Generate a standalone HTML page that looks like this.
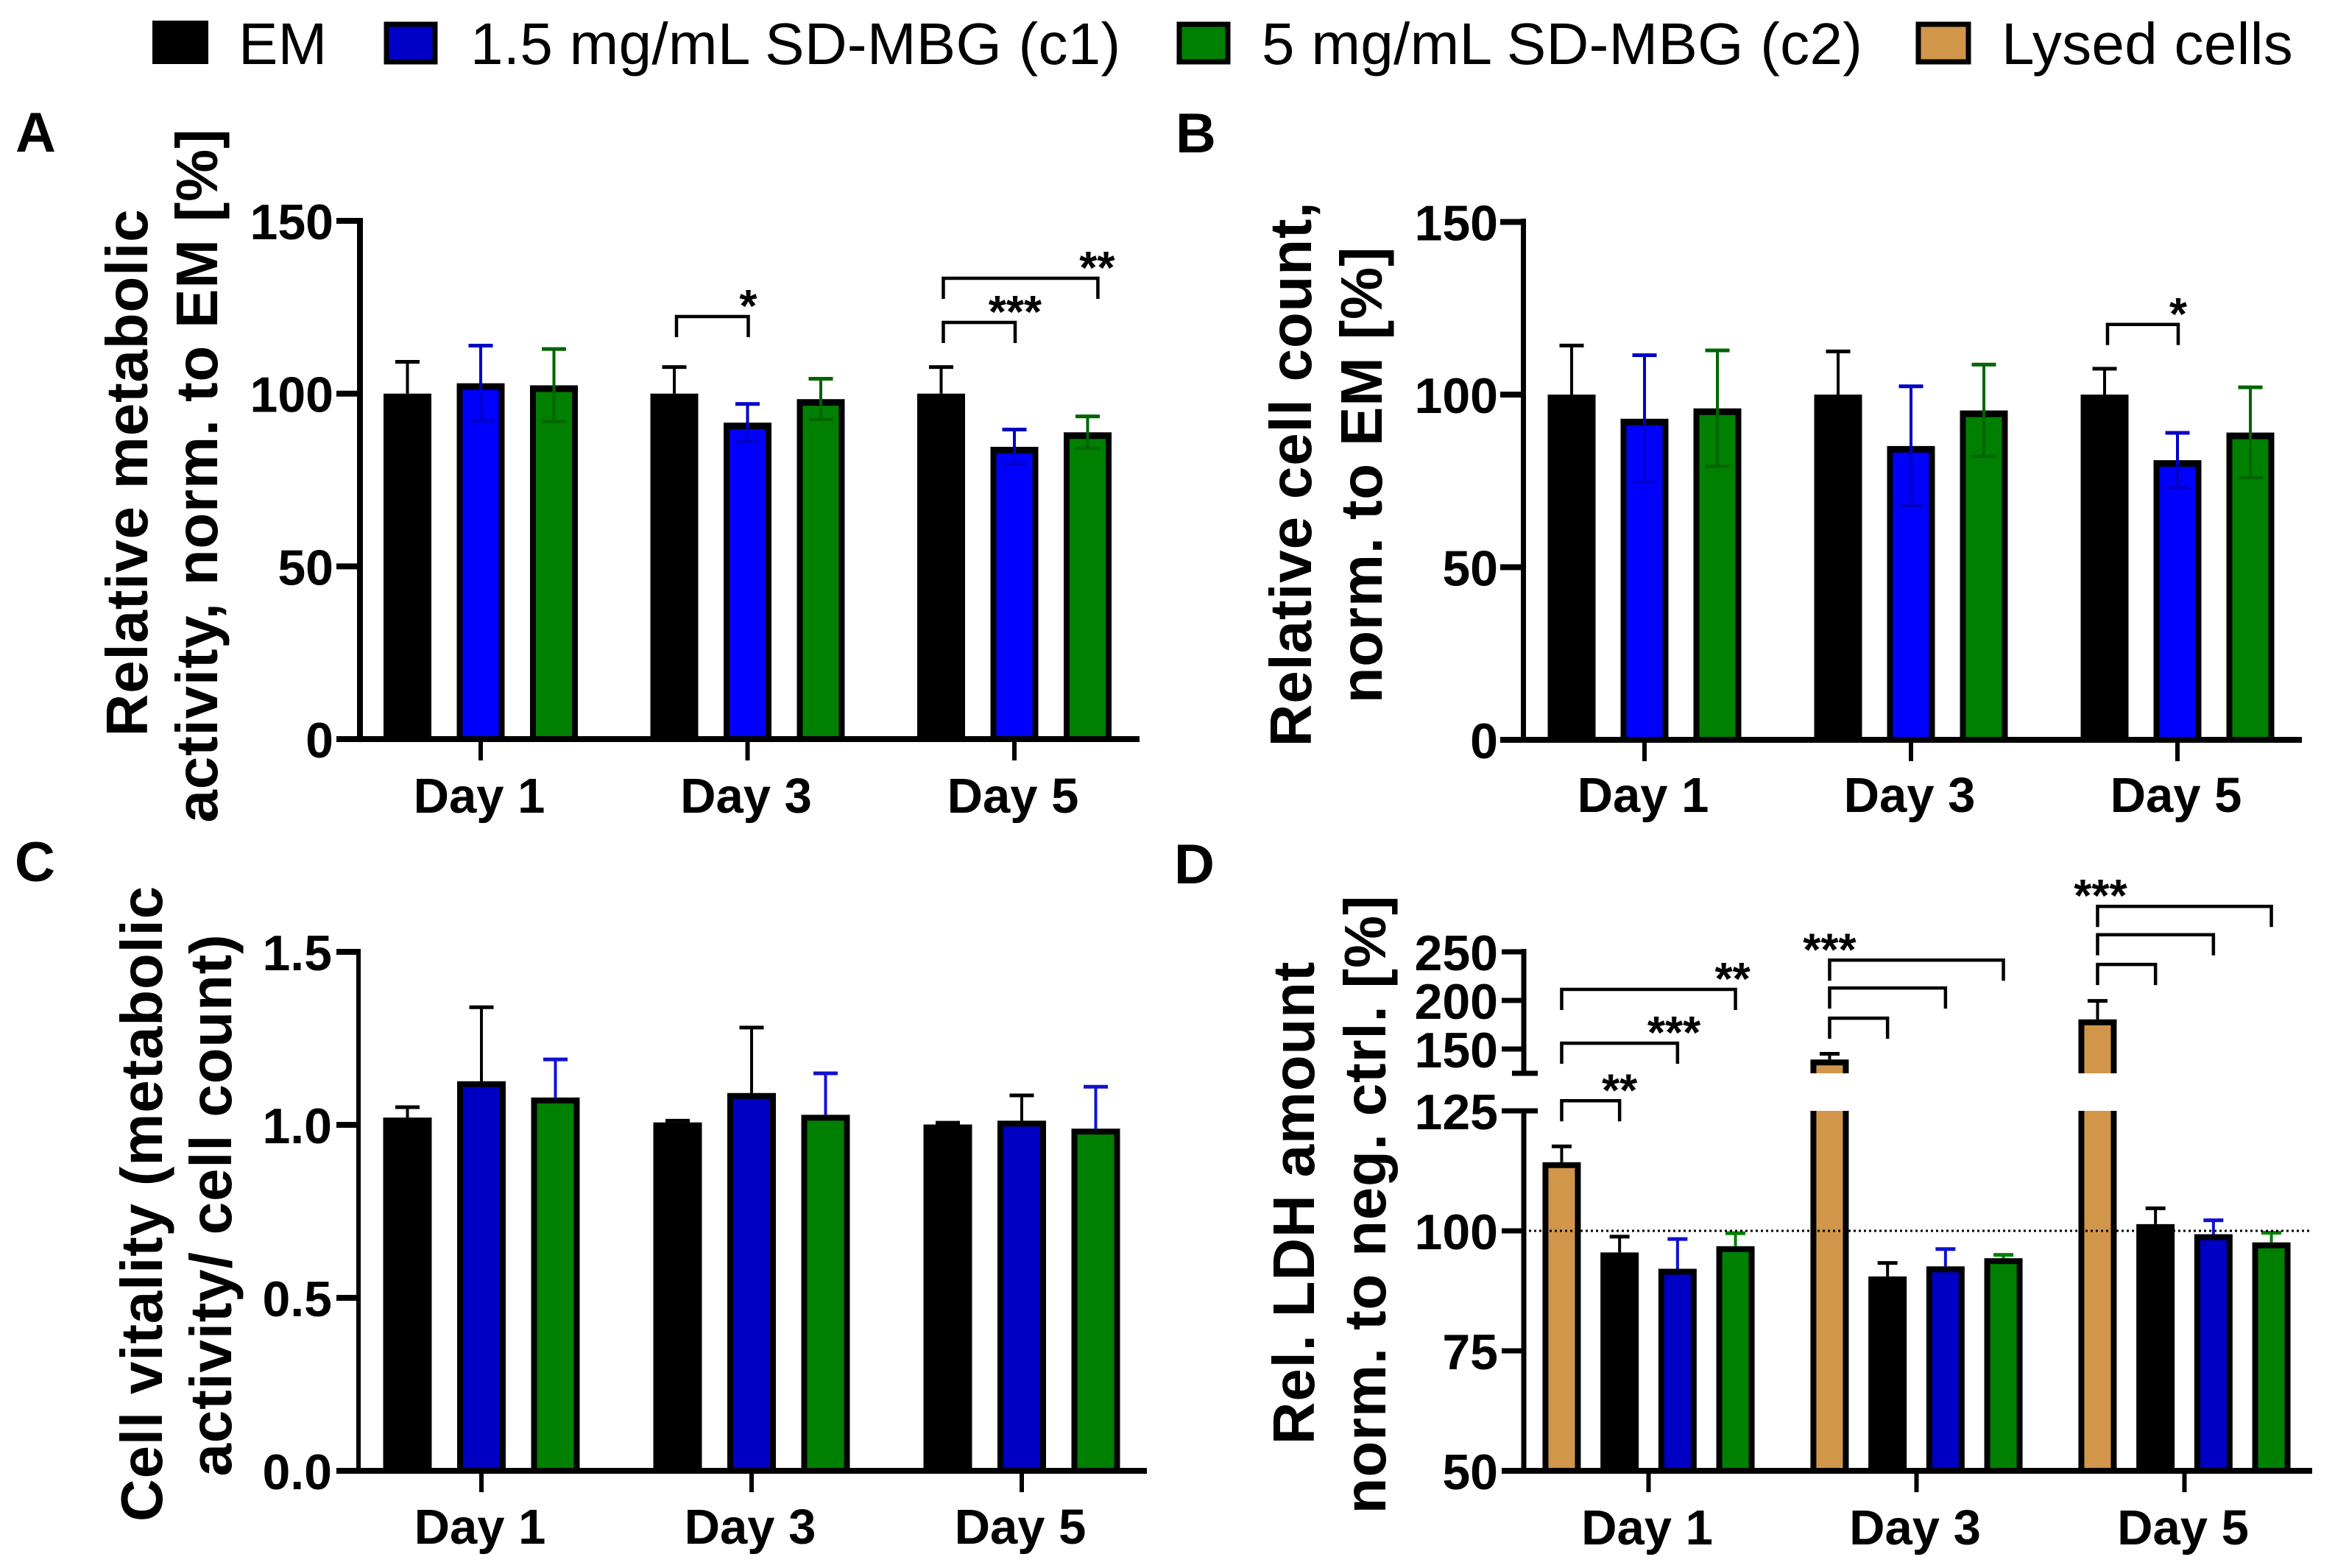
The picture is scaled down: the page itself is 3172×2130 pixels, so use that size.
<!DOCTYPE html>
<html lang="en">
<head>
<meta charset="utf-8">
<title>SD-MBG cell culture results</title>
<style>
html,body{margin:0;padding:0;background:#fff;}
svg{display:block;font-family:"Liberation Sans",Arial,sans-serif;}
.lg{font-size:80px;fill:#000;letter-spacing:0.3px;}
.yt{font-size:80px;font-weight:bold;fill:#000;text-anchor:middle;letter-spacing:0.8px;}
.pl{font-size:76px;font-weight:bold;fill:#000;}
</style>
</head>
<body>
<svg id="figure" xmlns="http://www.w3.org/2000/svg" width="3172" height="2130" viewBox="0 0 3172 2130">
  <rect x="0" y="0" width="3172" height="2130" fill="#fff"/>
  <g>
    <rect x="207" y="28" width="76" height="59" fill="#000"/>
    <text class="lg" x="324" y="87">EM</text>
    <rect x="525" y="33" width="66" height="51" fill="#0000c8" stroke="#000" stroke-width="7"/>
    <text class="lg" x="639" y="87">1.5 mg/mL SD-MBG (c1)</text>
    <rect x="1602" y="33" width="66" height="51" fill="#008000" stroke="#000" stroke-width="7"/>
    <text class="lg" x="1714" y="87">5 mg/mL SD-MBG (c2)</text>
    <rect x="2606" y="33" width="68" height="51" fill="#d2964a" stroke="#000" stroke-width="7"/>
    <text class="lg" x="2719" y="87">Lysed cells</text>
  </g>
  <text class="pl" x="21" y="206">A</text>
  <text class="pl" x="1597" y="207">B</text>
  <text class="pl" x="20" y="1197">C</text>
  <text class="pl" x="1595" y="1200">D</text>

  <text class="yt" transform="translate(200 642) rotate(-90)">Relative metabolic</text>
  <text class="yt" transform="translate(295 646) rotate(-90)">activity, norm. to EM [%]</text>
  <text class="yt" transform="translate(1781 644) rotate(-90)">Relative cell count,</text>
  <text class="yt" transform="translate(1877 645) rotate(-90)">norm. to EM [%]</text>
  <text class="yt" transform="translate(220 1635) rotate(-90)">Cell vitality (metabolic</text>
  <text class="yt" transform="translate(314 1637) rotate(-90)">activity/ cell count)</text>
  <text class="yt" transform="translate(1785 1634) rotate(-90)">Rel. LDH amount</text>
  <text class="yt" transform="translate(1882 1636) rotate(-90)">norm. to neg. ctrl. [%]</text>
</svg>
<script>
const days = ['Day 1', 'Day 3', 'Day 5'];

const aTicks = [0, 50, 100, 150];
const aEm = [100, 100, 100];
const aEmErr = [9.2, 7.7, 7.7];
const aC1 = [103, 91.6, 84.6];
const aC1Err = [10.9, 5.4, 5.0];
const aC2 = [102.4, 98.4, 88.8];
const aC2Err = [10.5, 5.9, 4.6];
const aBrackets = [[1, 0.03, 1.01, 122.3, '*', 1.01], [2, 0.03, 1.01, 120.6, '***', 1.01], [2, 0.03, 2.14, 133.4, '**', 2.13]];

const bTicks = [0, 50, 100, 150];
const bEm = [100, 100, 100];
const bEmErr = [14.2, 12.5, 7.5];
const bC1 = [93, 85.1, 81];
const bC1Err = [18.4, 17.3, 7.9];
const bC2 = [96, 95.4, 89];
const bC2Err = [16.8, 13.3, 13.1];
const bBrackets = [[2, 0.04, 1.01, 120.3, '*', 1.01]];

const cTicks = ['0.0', '0.5', '1.0', '1.5'];
const cEm = [1.021, 1.007, 1.001];
const cEmErr = [0.03, 0.005, 0.005];
const cC1 = [1.126, 1.092, 1.012];
const cC1Err = [0.214, 0.189, 0.073];
const cC2 = [1.079, 1.029, 0.989];
const cC2Err = [0.11, 0.12, 0.121];

const dTicksLower = [50, 75, 100, 125];
const dTicksUpper = [150, 200, 250];
const dLysed = [114.3, 139.2, 180.5];
const dLysedErr = [3.3, 5.9, 19];
const dEm = [95.5, 90.5, 101.4];
const dEmErr = [3.3, 2.8, 3.3];
const dC1 = [92.1, 92.6, 99.3];
const dC1Err = [6.2, 3.6, 2.9];
const dC2 = [96.8, 94.3, 97.6];
const dC2Err = [2.7, 0.7, 2];
const dBrackets = [
  [0, 0, 1, 127.1, '**', 1], [0, 0, 2, 139.1, '***', 1.94], [0, 0, 3, 150.3, '**', 2.95],
  [1, 0, 1, 144.3, '', 0], [1, 0, 2, 150.6, '', 0], [1, 0, 3, 156.4, '***', 0],
  [2, 0, 1, 155.5, '', 0], [2, 0, 2, 161.7, '', 0], [2, 0, 3, 167.6, '***', 0.05]
];
const dReference = 100;

const svg = document.getElementById('figure');
const NS = 'http://www.w3.org/2000/svg';

function mk(tag, attrs, parent) {
  const el = document.createElementNS(NS, tag);
  for (const k in attrs) { el.setAttribute(k, attrs[k]); }
  parent.appendChild(el);
  return el;
}

function drawRange(parent, x1, y1, x2, y2, color, width, kind) {
  const el = mk('line', {x1: x1, y1: y1, x2: x2, y2: y2, stroke: color, 'stroke-width': width}, parent);
  
  
  return el;
}

function drawBarRect(parent, x, w, yTop, yBottom, fill, topInset, kind) {
  const outer = mk('rect', {x: x - w / 2, y: yTop, width: w, height: yBottom - yTop, fill: '#000'}, parent);
  
  
  if (fill !== '#000') {
    const inner = mk('rect', {x: x - w / 2 + 8, y: yTop + topInset, width: w - 16, height: yBottom - yTop - topInset, fill: fill}, parent);
    
    
  }
}

function drawErr(parent, x, v, e, yFn, color, both, capW, stem, kind) {
  drawRange(parent, x, yFn(v), x, yFn(v + e), color, stem, kind + '-error-stem');
  drawRange(parent, x - capW / 2, yFn(v + e), x + capW / 2, yFn(v + e), color, stem + 1, kind + '-error-cap');
  if (both) {
    drawRange(parent, x, yFn(v), x, yFn(v - e), color, stem, kind + '-error-stem-lower');
    drawRange(parent, x - capW / 2, yFn(v - e), x + capW / 2, yFn(v - e), color, stem, kind + '-error-cap-lower');
  }
}

function drawTickLabel(parent, x, y, text) {
  const t = mk('text', {x: x, y: y, 'font-size': 68, 'font-weight': 'bold', 'text-anchor': 'end', fill: '#000'}, parent);
  t.textContent = text;
  
  
}

function drawDayAxis(parent, xGroup, y0, labelY, left, right) {
  drawRange(parent, left, y0, right, y0, '#000', 8, 'x-axis-line');
  days.forEach(function (d, g) {
    drawRange(parent, xGroup(g), y0, xGroup(g), y0 + 29, '#000', 6, 'x-tick');
    const t = mk('text', {x: xGroup(g) - 2, y: labelY, 'font-size': 67, 'font-weight': 'bold', 'text-anchor': 'middle', fill: '#000'}, parent);
    t.textContent = d;
    
    
  });
}

function drawBrackets(parent, list, xBar, yFn) {
  list.forEach(function (b) {
    const xa = xBar(b[0], b[1]);
    const xb = xBar(b[0], b[2]);
    const yy = yFn(b[3]);
    const p = mk('path', {d: 'M' + xa + ' ' + (yy + 28) + 'V' + yy + 'H' + xb + 'V' + (yy + 28), fill: 'none', stroke: '#000', 'stroke-width': 4.5}, parent);
    
    
    if (b[4]) {
      const t = mk('text', {x: xBar(b[0], b[5]), y: yy + 7, 'font-size': 62, 'font-weight': 'bold', 'text-anchor': 'middle', fill: '#000'}, parent);
      t.textContent = b[4];
      
      
    }
  });
}

const BLUE_BRIGHT = '#0000ff';
const BLUE_DARK = '#0000c4';
const GREEN = '#008000';
const TAN = '#d2964a';

/* Panel A */
(function () {
  const g = mk('g', {}, svg);
  
  
  const y = function (v) { return 1004 - v * 4.693; };
  const xGroup = function (i) { return 653 + i * 362.5; };
  const xBar = function (i, b) { return xGroup(i) + (b - 1) * 99.5; };
  [[aEm, aEmErr, '#000', '#000'], [aC1, aC1Err, BLUE_BRIGHT, '#0000c8'], [aC2, aC2Err, GREEN, '#006400']].forEach(function (s, b) {
    s[0].forEach(function (v, i) {
      drawBarRect(g, xBar(i, b), 65, y(v), y(0), s[2], 9, 'bar');
      drawErr(g, xBar(i, b), v, s[1][i], y, s[3], b > 0, 33, 4, 'bar');
    });
  });
  drawRange(g, 489, 296, 489, 1004, '#000', 8, 'y-axis-line');
  aTicks.forEach(function (t) {
    drawRange(g, 457, y(t), 489, y(t), '#000', 8, 'y-tick');
    drawTickLabel(g, 453, y(t) + 25, String(t));
  });
  drawDayAxis(g, xGroup, 1004, 1104, 457, 1548);
  drawBrackets(g, aBrackets, xBar, y);
})();

/* Panel B */
(function () {
  const g = mk('g', {}, svg);
  
  
  const y = function (v) { return 1005 - v * 4.69; };
  const xGroup = function (i) { return 2234 + i * 362; };
  const xBar = function (i, b) { return xGroup(i) + (b - 1) * 99; };
  [[bEm, bEmErr, '#000', '#000'], [bC1, bC1Err, BLUE_BRIGHT, '#0000c8'], [bC2, bC2Err, GREEN, '#006400']].forEach(function (s, b) {
    s[0].forEach(function (v, i) {
      drawBarRect(g, xBar(i, b), 65, y(v), y(0), s[2], 9, 'bar');
      drawErr(g, xBar(i, b), v, s[1][i], y, s[3], b > 0, 33, 4, 'bar');
    });
  });
  drawRange(g, 2069.5, 297, 2069.5, 1005, '#000', 7, 'y-axis-line');
  bTicks.forEach(function (t) {
    drawRange(g, 2038, y(t), 2069, y(t), '#000', 8, 'y-tick');
    drawTickLabel(g, 2035, y(t) + 25, String(t));
  });
  drawDayAxis(g, xGroup, 1005, 1103, 2038, 3127);
  drawBrackets(g, bBrackets, xBar, y);
})();

/* Panel C */
(function () {
  const g = mk('g', {}, svg);
  
  
  const y = function (v) { return 1998 - v * 470; };
  const xGroup = function (i) { return 654 + i * 367; };
  const xBar = function (i, b) { return xGroup(i) + (b - 1) * 100.5; };
  [[cEm, cEmErr, '#000', '#000'], [cC1, cC1Err, BLUE_DARK, '#000'], [cC2, cC2Err, GREEN, '#1010d0']].forEach(function (s, b) {
    s[0].forEach(function (v, i) {
      drawBarRect(g, xBar(i, b), 66, y(v), y(0), s[2], 8, 'bar');
      drawErr(g, xBar(i, b), v, s[1][i], y, s[3], false, 33, 4, 'bar');
    });
  });
  drawRange(g, 487, 1289, 487, 1998, '#000', 6, 'y-axis-line');
  cTicks.forEach(function (t) {
    drawRange(g, 457, y(Number(t)), 487, y(Number(t)), '#000', 8, 'y-tick');
    drawTickLabel(g, 451, y(Number(t)) + 25, t);
  });
  drawDayAxis(g, xGroup, 1998, 2097, 457, 1558);
})();

/* Panel D */
(function () {
  const g = mk('g', {}, svg);
  
  
  const yLow = function (v) { return 1998 - (v - 50) * 6.52; };
  const yUp = function (v) { return 1425 - (v - 150) * 1.32; };
  const y = function (v) { return v <= 125 ? yLow(v) : yUp(v); };
  const xGroup = function (i) { return 2239.5 + i * 364; };
  const xBar = function (i, b) { return xGroup(i) + (b - 1.5) * 78.7; };
  [[dLysed, dLysedErr, TAN, '#000'], [dEm, dEmErr, '#000', '#000'], [dC1, dC1Err, BLUE_DARK, '#1010d0'], [dC2, dC2Err, GREEN, '#008000']].forEach(function (s, b) {
    s[0].forEach(function (v, i) {
      const x = xBar(i, b);
      if (v > 125) {
        drawBarRect(g, x, 52, yLow(125), yLow(50), s[2], 0, 'bar-lower-segment');
        drawBarRect(g, x, 52, yUp(v), yUp(125), s[2], 8, 'bar-upper-segment');
      } else {
        drawBarRect(g, x, 52, yLow(v), yLow(50), s[2], 8, 'bar');
      }
      drawErr(g, x, v, s[1][i], y, s[3], false, 27, 4, 'bar');
    });
  });
  const ref = mk('line', {x1: 2070, y1: yLow(dReference), x2: 3141, y2: yLow(dReference), stroke: '#000', 'stroke-width': 3, 'stroke-dasharray': '3 4'}, g);
  
  
  drawRange(g, 2070, 1289, 2070, yUp(125), '#000', 7, 'y-axis-upper-segment');
  drawRange(g, 2070, yLow(125), 2070, 1998, '#000', 7, 'y-axis-lower-segment');
  drawRange(g, 2054, yUp(125), 2089, yUp(125), '#000', 7, 'y-axis-break-cap');
  drawRange(g, 2054, yLow(125), 2070, yLow(125), '#000', 7, 'y-axis-break-cap');
  drawRange(g, 2070, yLow(125), 2089, yLow(125), '#000', 7, 'y-axis-break-cap');
  dTicksUpper.forEach(function (t) {
    drawRange(g, 2040, yUp(t), 2070, yUp(t), '#000', 7, 'y-tick');
    drawTickLabel(g, 2035, yUp(t) + 25, String(t));
  });
  dTicksLower.forEach(function (t) {
    drawRange(g, 2040, yLow(t), 2070, yLow(t), '#000', 7, 'y-tick');
    drawTickLabel(g, 2035, yLow(t) + 25, String(t));
  });
  drawDayAxis(g, xGroup, 1998, 2098, 2040, 3141);
  drawBrackets(g, dBrackets, xBar, yLow);
})();
</script>
</body>
</html>
